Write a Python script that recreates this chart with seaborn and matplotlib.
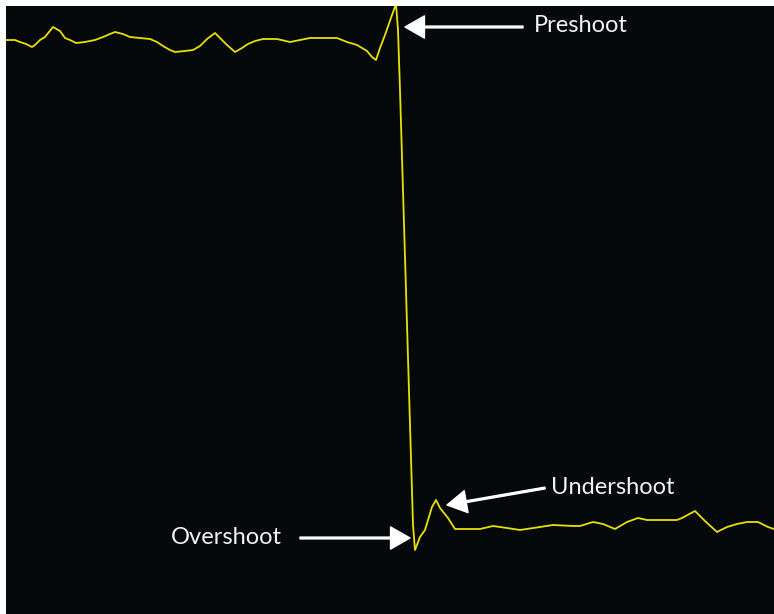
import matplotlib
matplotlib.use("Agg")
import matplotlib.pyplot as plt
import seaborn as sns

# time axis (samples) and signal amplitude (mV)
time_samples = [6, 15, 20, 26, 32, 35, 40, 45, 53, 60, 65, 70, 76, 85, 95,
                103, 110, 115, 123, 130, 140, 150, 157, 163, 170, 175, 185, 193, 200, 207,
                215, 220, 227, 235, 242, 248, 255, 263, 277, 290, 300, 310, 337, 347, 357,
                367, 372, 376, 380, 385, 392, 396, 398, 400, 413, 415, 420, 425, 432, 436,
                440, 448, 455, 480, 493, 507, 520, 540, 553, 573, 580, 593, 603, 615, 627,
                638, 647, 677, 682, 695, 705, 717, 727, 737, 747, 758, 768, 774]
amplitude_mv = [487, 487, 485, 483, 480, 482, 487, 490, 500, 496, 489, 487, 484, 485, 487,
                490, 493, 495, 493, 490, 489, 488, 485, 481, 477, 475, 476, 477, 481, 488,
                494, 489, 482, 475, 479, 483, 486, 488, 488, 485, 487, 489, 489, 485, 482,
                476, 470, 467, 479, 492, 512, 523, 497, 437, 2, -23, -10, -3, 20, 27,
                19, 9, -2, -2, 1, -1, -3, 0, 2, 1, 1, 5, 3, -2, 5,
                9, 7, 7, 9, 16, 6, -5, 0, 3, 5, 5, 0, -2]

labels = ["Preshoot", "Undershoot", "Overshoot"]
arrow_tips = [(405, 500), (447, 22), (410, -11)]
arrow_tails = [(523, 500), (545, 39), (300, -11)]
label_pos = [(534, 502), (551, 39), (282, -10)]
label_ha = ["left", "left", "right"]

sns.set_style("dark")
plt.rcParams['font.family'] = ['Lato', 'DejaVu Sans']

fig = plt.figure(figsize=(7.74, 6.14), dpi=100)
fig.patch.set_facecolor("white")
ax = fig.add_axes([6 / 774, 0, 768 / 774, 608 / 614])
ax.set_facecolor("#05090b")

sns.lineplot(x=time_samples, y=amplitude_mv, ax=ax, color="#e8e000",
             linewidth=1.3, sort=False, estimator=None)

for lab, tip, tail, pos, ha in zip(labels, arrow_tips, arrow_tails, label_pos, label_ha):
    ax.annotate("", xy=tip, xytext=tail,
                arrowprops=dict(facecolor="white", edgecolor="white", width=1.3,
                                headwidth=16, headlength=14, shrink=0))
    ax.text(pos[0], pos[1], lab, color="#f2f2f2", fontsize=17, ha=ha, va="center")

ax.set_xlim(6, 774)
ax.set_ylim(-87, 521)
ax.set_xticks([])
ax.set_yticks([])
ax.set_xlabel("")
ax.set_ylabel("")
for s in ax.spines.values():
    s.set_visible(False)

fig.savefig("out.png", dpi=100, facecolor="white")
